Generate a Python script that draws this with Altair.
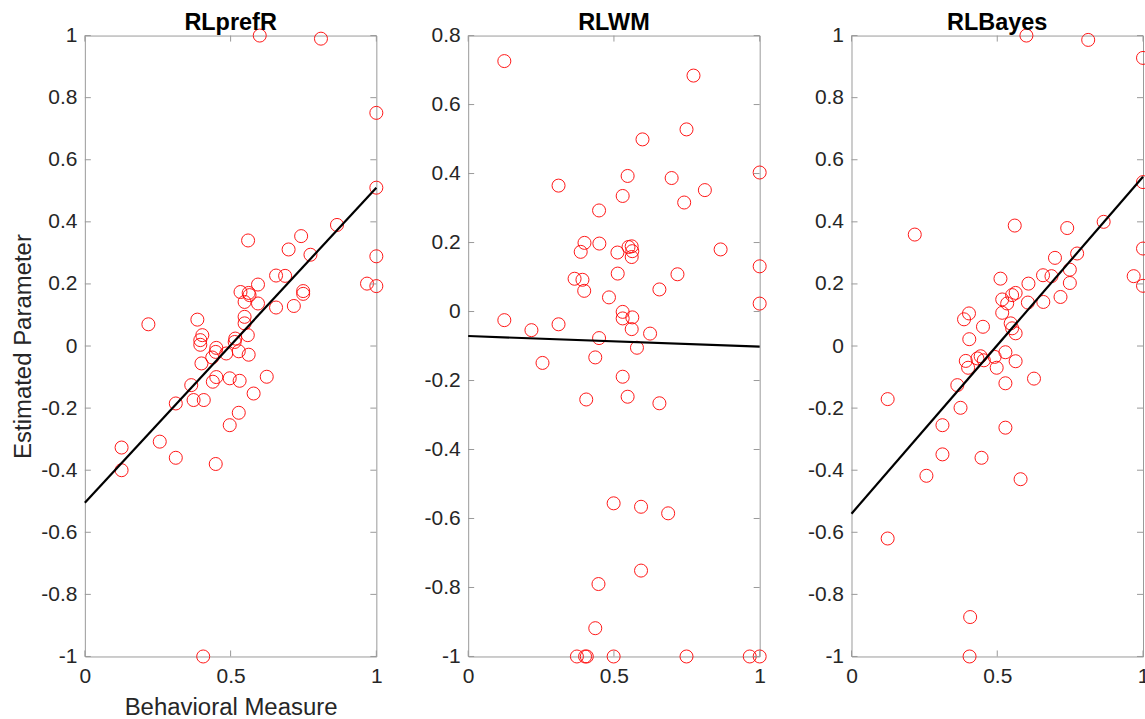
import altair as alt
import pandas as pd

titles = ["RLprefR", "RLWM", "RLBayes"]

p1_x = [0.60, 0.81, 1.0, 1.0, 0.865, 0.56, 0.742, 0.699, 0.774, 1.0, 0.656, 0.687, 0.968, 1.0, 0.594,
        0.534, 0.562, 0.565, 0.749, 0.749, 0.548, 0.594, 0.656, 0.717, 0.548, 0.548, 0.386, 0.218,
        0.559, 0.403, 0.396, 0.396, 0.516, 0.514, 0.451, 0.449, 0.485, 0.528, 0.562, 0.437, 0.40,
        0.451, 0.439, 0.497, 0.531, 0.624, 0.365, 0.579, 0.373, 0.408, 0.312, 0.528, 0.497, 0.257,
        0.126, 0.312, 0.126, 0.449, 0.406]
p1_y = [1.0, 0.99, 0.751, 0.51, 0.39, 0.34, 0.354, 0.311, 0.294, 0.289, 0.227, 0.226, 0.201, 0.193, 0.198,
        0.174, 0.171, 0.164, 0.177, 0.168, 0.142, 0.137, 0.124, 0.129, 0.094, 0.073, 0.085, 0.070,
        0.035, 0.035, 0.019, 0.004, 0.024, 0.013, -0.006, -0.019, -0.024, -0.017, -0.028, -0.037, -0.056,
        -0.10, -0.115, -0.104, -0.112, -0.099, -0.126, -0.153, -0.174, -0.174, -0.185, -0.215, -0.255, -0.308,
        -0.327, -0.36, -0.40, -0.38, -1.0]

p2_x = [0.124, 0.773, 0.749, 0.598, 0.547, 0.698, 1.0, 0.31, 0.812, 0.53, 0.741, 0.449, 0.399, 0.45,
        0.386, 0.512, 0.55, 0.561, 0.563, 0.561, 0.866, 0.513, 0.718, 1.0, 0.365, 0.392, 0.398, 0.483,
        0.656, 1.0, 0.53, 0.53, 0.563, 0.561, 0.624, 0.124, 0.217, 0.31, 0.449, 0.579, 0.436, 0.255,
        0.53, 0.405, 0.547, 0.656, 0.499, 0.593, 0.686, 0.593, 0.447, 0.436, 0.373, 0.401, 0.407,
        0.499, 0.749, 0.966, 1.0]
p2_y = [0.726, 0.684, 0.528, 0.499, 0.393, 0.387, 0.403, 0.365, 0.352, 0.335, 0.316, 0.293, 0.199, 0.197,
        0.173, 0.171, 0.187, 0.189, 0.175, 0.158, 0.18, 0.11, 0.108, 0.131, 0.095, 0.092, 0.06, 0.041,
        0.064, 0.023, -0.001, -0.02, -0.017, -0.051, -0.064, -0.025, -0.054, -0.037, -0.077, -0.105, -0.133, -0.149,
        -0.189, -0.255, -0.247, -0.266, -0.556, -0.566, -0.585, -0.751, -0.79, -0.918, -1.0, -1.0, -1.0,
        -1.0, -1.0, -1.0, -1.0]

p3_x = [0.60, 0.812, 1.0, 1.0, 1.0, 0.968, 1.0, 0.865, 0.217, 0.56, 0.74, 0.774, 0.698, 0.657, 0.686,
        0.749, 0.749, 0.511, 0.607, 0.563, 0.551, 0.517, 0.534, 0.605, 0.658, 0.717, 0.517, 0.403,
        0.386, 0.451, 0.546, 0.551, 0.563, 0.404, 0.528, 0.563, 0.491, 0.443, 0.432, 0.454, 0.392,
        0.40, 0.498, 0.626, 0.528, 0.363, 0.374, 0.124, 0.312, 0.528, 0.312, 0.446, 0.257, 0.58,
        0.124, 0.407, 0.405]
p3_y = [1.0, 0.986, 0.928, 0.528, 0.314, 0.225, 0.194, 0.40, 0.359, 0.388, 0.38, 0.298, 0.284, 0.228, 0.225,
        0.246, 0.203, 0.217, 0.201, 0.171, 0.164, 0.15, 0.137, 0.14, 0.142, 0.158, 0.107, 0.105,
        0.086, 0.062, 0.073, 0.057, 0.041, 0.022, -0.02, -0.049, -0.035, -0.033, -0.04, -0.046, -0.048,
        -0.07, -0.07, -0.105, -0.12, -0.126, -0.199, -0.171, -0.255, -0.263, -0.349, -0.36, -0.418, -0.429,
        -0.62, -0.873, -1.0]

fit_x = [0, 1]
fit1_y = [-0.505, 0.51]
fit2_y = [-0.071, -0.102]
fit3_y = [-0.54, 0.545]

yticks_a = [-1, -0.8, -0.6, -0.4, -0.2, 0, 0.2, 0.4, 0.6, 0.8, 1]
yticks_b = [-1, -0.8, -0.6, -0.4, -0.2, 0, 0.2, 0.4, 0.6, 0.8]
xticks = [0, 0.5, 1]

W, H = 292, 622
TICK = 6
AX = "#9a9a9a"
TXT = "#262626"
FONT = "Liberation Sans"


def panel(title, xs, ys, fy, ydom, yticks, first):
    pts = pd.DataFrame({"x": xs, "y": ys})
    fit = pd.DataFrame({"x": fit_x, "y": fy})
    yt = pd.DataFrame({"x": [0.0] * len(yticks), "y": yticks})
    xt = pd.DataFrame({"x": xticks, "y": [0.0] * len(xticks)})
    xscale = alt.Scale(domain=[0, 1], nice=False, zero=False)
    yscale = alt.Scale(domain=ydom, nice=False, zero=False)
    xaxis = alt.Axis(values=xticks, labelExpr="'' + datum.value",
                     title="Behavioral Measure" if first else "")
    yaxis = alt.Axis(values=yticks, labelExpr="'' + datum.value",
                     title="Estimated Parameter" if first else "")
    X = alt.X("x:Q", scale=xscale, axis=xaxis)
    Y = alt.Y("y:Q", scale=yscale, axis=yaxis)

    left = alt.Chart(yt).mark_rule(color=AX, strokeWidth=1).encode(
        y=Y, x=alt.value(0), x2=alt.value(TICK))
    right = alt.Chart(yt).mark_rule(color=AX, strokeWidth=1).encode(
        y=Y, x=alt.value(W - TICK), x2=alt.value(W))
    bottom = alt.Chart(xt).mark_rule(color=AX, strokeWidth=1).encode(
        x=X, y=alt.value(H - TICK), y2=alt.value(H))
    top = alt.Chart(xt).mark_rule(color=AX, strokeWidth=1).encode(
        x=X, y=alt.value(0), y2=alt.value(TICK))
    points = alt.Chart(pts).mark_point(
        shape="circle", filled=False, size=170, color="#ff0000", strokeWidth=1, opacity=0.9
    ).encode(x=X, y=Y)
    line = alt.Chart(fit).mark_line(color="black", strokeWidth=2.2).encode(x=X, y=Y)
    return alt.layer(points, left, right, bottom, top, line).properties(
        width=W, height=H,
        title=alt.TitleParams(title, anchor="middle", fontSize=23.5, fontWeight="bold",
                              font=FONT, color="#000000", offset=-10),
    )


p1 = panel(titles[0], p1_x, p1_y, fit1_y, [-1, 1], yticks_a, True)
p2 = panel(titles[1], p2_x, p2_y, fit2_y, [-1, 0.8], yticks_b, False)
p3 = panel(titles[2], p3_x, p3_y, fit3_y, [-1, 1], yticks_a, False)

chart = alt.hconcat(p1, p2, p3, spacing=92, bounds="flush").configure_view(
    stroke=AX, strokeWidth=1
).configure_axis(
    domain=False, ticks=False, grid=False, labelFlush=False,
    labelFont=FONT, labelFontSize=21, labelColor=TXT,
    titleFont=FONT, titleFontSize=24, titleColor=TXT, titleFontWeight="normal",
).configure_axisY(labelPadding=8, titlePadding=5).configure_axisX(
    labelPadding=9, titlePadding=9
).properties(padding={"left": 11, "top": 10, "right": -8, "bottom": -5})

chart.save("out.html", embed_options={"renderer": "svg", "actions": False})
